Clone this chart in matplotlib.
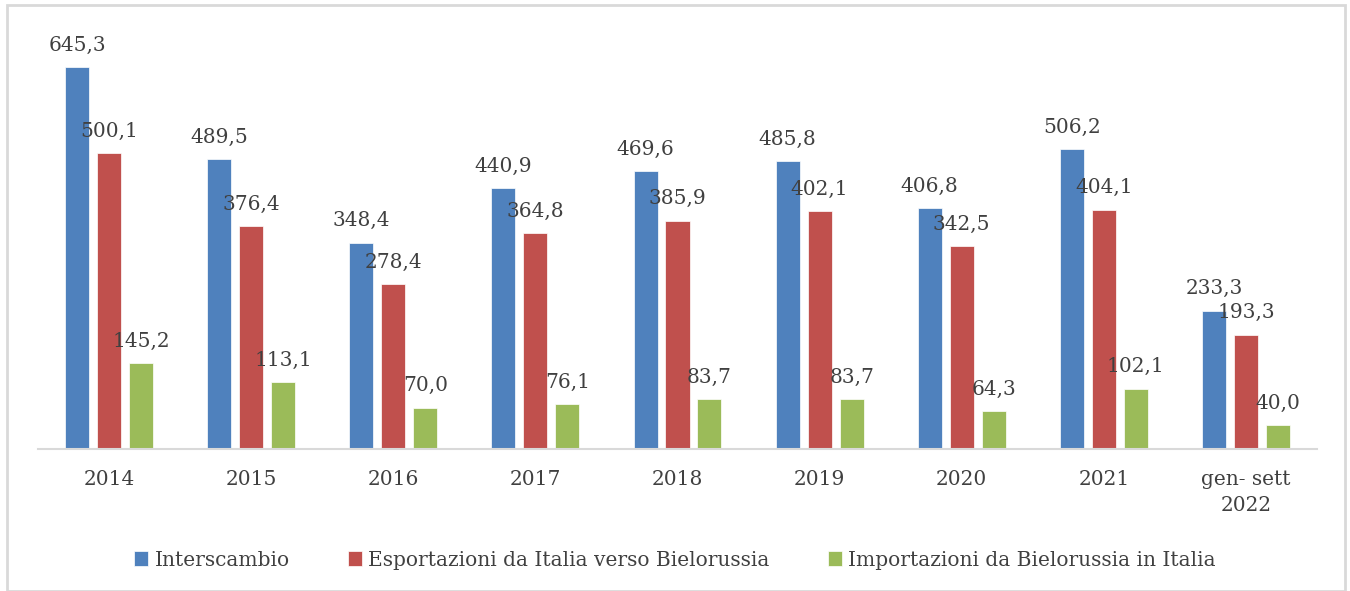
import matplotlib
matplotlib.use("Agg")
import matplotlib.pyplot as plt
import numpy as np
from matplotlib.patches import Rectangle

categories = ["2014", "2015", "2016", "2017", "2018", "2019", "2020", "2021", "gen- sett\n2022"]
series_names = ["Interscambio", "Esportazioni da Italia verso Bielorussia",
                "Importazioni da Bielorussia in Italia"]
interscambio = [645.3, 489.5, 348.4, 440.9, 469.6, 485.8, 406.8, 506.2, 233.3]
esportazioni = [500.1, 376.4, 278.4, 364.8, 385.9, 402.1, 342.5, 404.1, 193.3]
importazioni = [145.2, 113.1, 70.0, 76.1, 83.7, 83.7, 64.3, 102.1, 40.0]
colors = ["#4F81BD", "#C0504D", "#9BBB59"]

plt.rcParams['font.family'] = ['DejaVu Serif']
txt = "#404040"
fs = 14.5

fig = plt.figure(figsize=(13.5, 5.91), dpi=100)
ax = fig.add_axes([38/1350, 1-449/591, (1317-38)/1350, 0.7012])

x = np.arange(len(categories))
width = 0.169
step = 0.225
all_series = [interscambio, esportazioni, importazioni]
for i, (vals, name, c) in enumerate(zip(all_series, series_names, colors)):
    pos = x + (i - 1) * step
    ax.bar(pos, vals, width=width, color=c, label=name, edgecolor="white", linewidth=0.5)
    for p, v in zip(pos, vals):
        ax.annotate(f"{v:.1f}".replace(".", ","), (p, v), xytext=(0, 9),
                    textcoords="offset points", ha="center", va="bottom",
                    fontsize=fs, color=txt)

ax.set_xlim(-0.5, len(categories) - 0.5)
ax.set_ylim(0, 700)
ax.set_xticks(x)
ax.set_xticklabels(categories, fontsize=fs, color=txt, linespacing=1.45)
ax.tick_params(axis='x', length=0, pad=15)
ax.set_yticks([])
for s in ["top", "right", "left"]:
    ax.spines[s].set_visible(False)
ax.spines["bottom"].set_color("#D9D9D9")
ax.spines["bottom"].set_linewidth(1.5)

leg = fig.legend(loc="center", bbox_to_anchor=(0.5, 1-560/591), ncol=3, frameon=False,
                 fontsize=fs, handlelength=0.7, handleheight=0.7, handletextpad=0.3,
                 columnspacing=2.9)
for t in leg.get_texts():
    t.set_color(txt)

fig.patches.append(Rectangle((7/1350, 0), (1345-7)/1350, 1-5/591, transform=fig.transFigure,
                             fill=False, edgecolor="#D9D9D9", linewidth=2))

fig.savefig("out.png", dpi=100)
